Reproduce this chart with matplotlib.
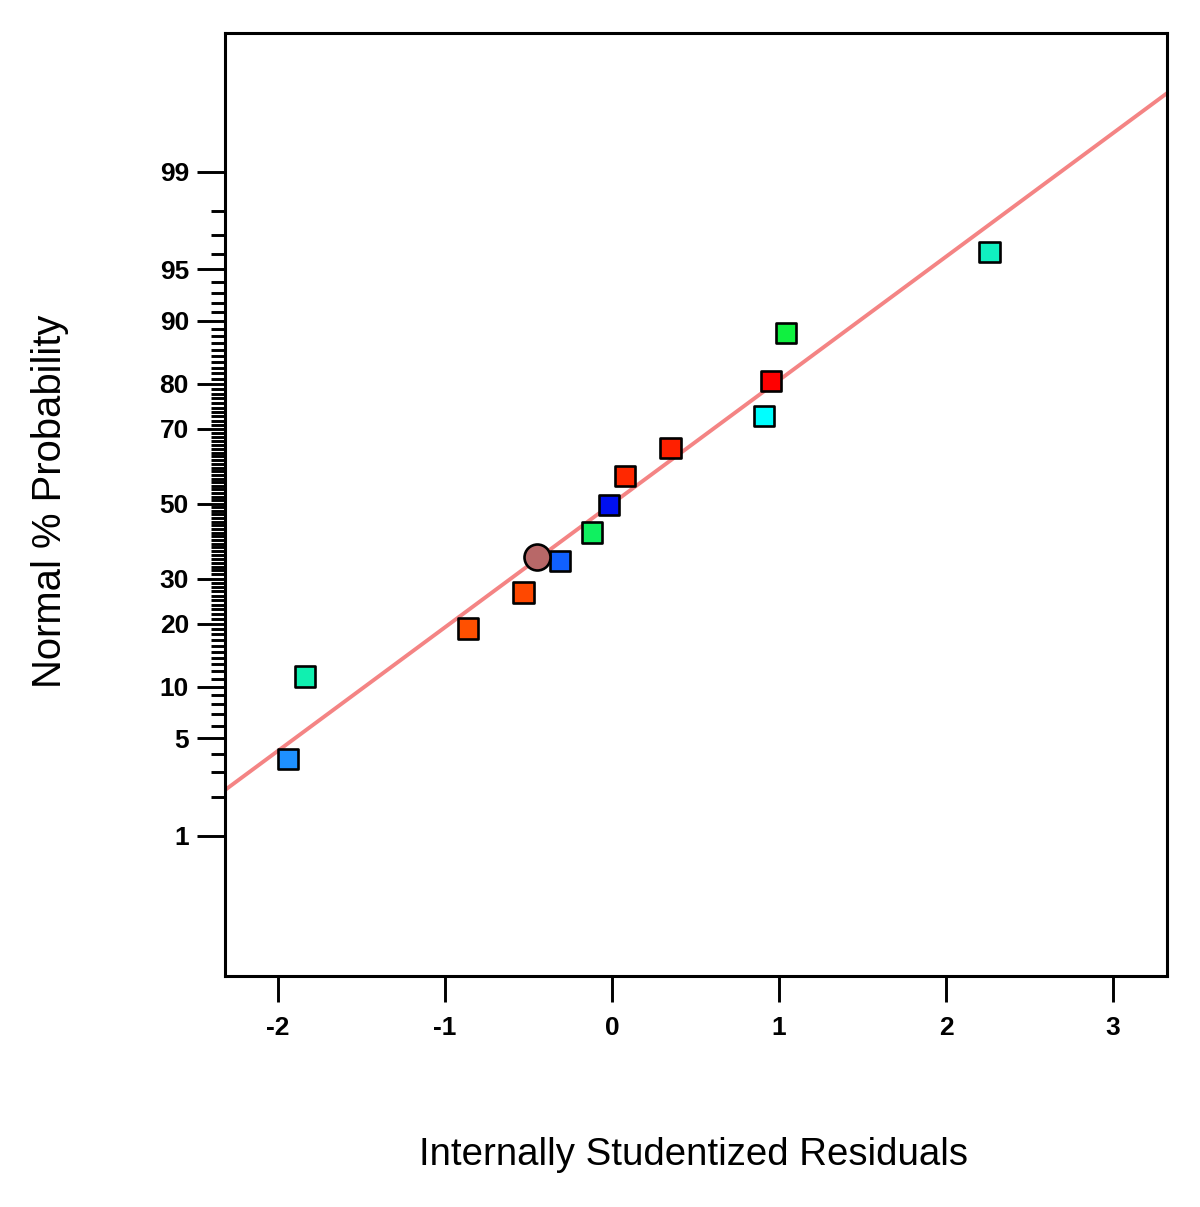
import matplotlib
matplotlib.use("Agg")
import matplotlib.pyplot as plt
import numpy as np
from statistics import NormalDist

# residuals (x) and normal % probability (y)
resid = [-1.94, -1.84, -0.86, -0.53, -0.31, -0.12, -0.02, 0.08, 0.35, 0.91, 0.95, 1.04, 2.26]
prob = [3.7, 11.3, 19.1, 26.7, 34.5, 42.0, 49.7, 57.6, 65.2, 73.0, 80.6, 88.4, 96.1]
colors = ["#1E90FF", "#10F0B0", "#FF5000", "#FF4800", "#1060FF", "#10F060", "#0010F0",
          "#FF2800", "#FF2000", "#00FFFF", "#FF0000", "#10F040", "#10F0C0"]

# the round marker
circle_x = [-0.45]
circle_p = [35.5]
circle_color = "#B86868"

# fitted normal line, in probit units: z = intercept + slope * x
line_intercept = 0.0
line_slope = 0.866

y_major = [1, 5, 10, 20, 30, 50, 70, 80, 90, 95, 99]
y_minor = [v for v in range(2, 99) if v not in y_major]
x_ticks = [-2, -1, 0, 1, 2, 3]

nd = NormalDist()
_ppf = np.vectorize(lambda q: nd.inv_cdf(min(max(q, 1e-12), 1 - 1e-12)), otypes=[float])
_cdf = np.vectorize(nd.cdf, otypes=[float])


def forward(p):
    return _ppf(np.asarray(p, dtype=float) / 100.0)


def inverse(z):
    return _cdf(np.asarray(z, dtype=float)) * 100.0


plt.rcParams['font.family'] = ['Liberation Sans', 'DejaVu Sans']

fig = plt.figure(figsize=(12, 12.07), dpi=100)
ax = fig.add_axes([0.1875, 0.1914, 0.785, 0.7813])
ax.set_yscale('function', functions=(forward, inverse))

xlim = (-2.317, 3.323)
ax.set_xlim(*xlim)
ax.set_ylim(inverse(-3.31), inverse(3.30))

lx = np.array(xlim)
ax.plot(lx, inverse(line_intercept + line_slope * lx), color="#F48484", linewidth=2.8, zorder=2)

ax.scatter(resid, prob, marker='s', s=210, c=colors, edgecolors='black', linewidths=1.9, zorder=3)
ax.scatter(circle_x, circle_p, marker='o', s=350, c=circle_color, edgecolors='black', linewidths=1.9, zorder=4)

tick_font = dict(fontsize=19, fontweight='bold')
ax.set_yticks(y_major)
ax.set_yticklabels([str(v) for v in y_major], **tick_font)
ax.set_yticks(y_minor, minor=True)
ax.set_xticks(x_ticks)
ax.set_xticklabels([str(v) for v in x_ticks], **tick_font)
ax.xaxis.set_minor_locator(matplotlib.ticker.NullLocator())

ax.tick_params(axis='y', which='major', direction='out', length=20, width=2.1, pad=6)
ax.tick_params(axis='y', which='minor', direction='out', length=10, width=2.1)
ax.tick_params(axis='x', which='major', direction='out', length=19, width=2.1, pad=10)

for sp in ax.spines.values():
    sp.set_linewidth(2.2)

fig.text(0.042, 0.585, "Normal % Probability", rotation=90, fontsize=28.8, ha='center', va='center')
fig.text(0.578, 0.043, "Internally Studentized Residuals", fontsize=27.6, ha='center', va='center')

fig.savefig("out.png", dpi=100)
